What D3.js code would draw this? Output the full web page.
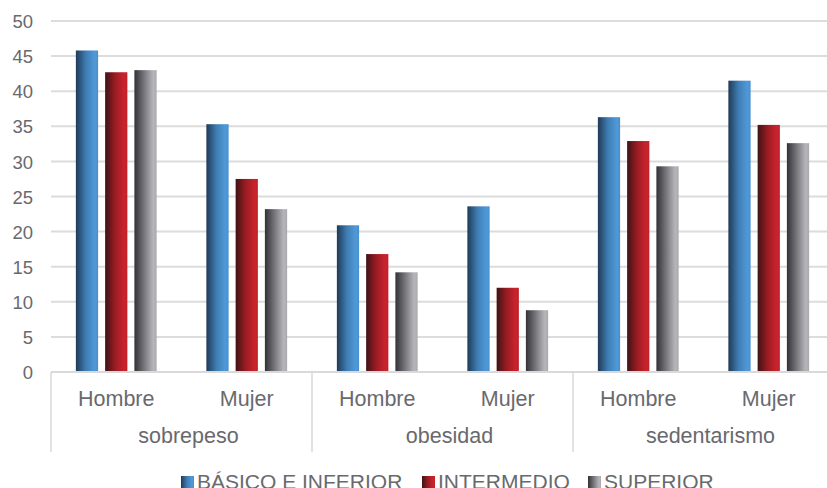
<!DOCTYPE html>
<html><head><meta charset="utf-8">
<script src="https://cdn.jsdelivr.net/npm/d3@7"></script>
<style>body{margin:0;background:#fff}svg{display:block}text{font-family:"Liberation Sans",Arial,sans-serif;fill:#69696d}</style>
</head><body><svg id="c" width="827" height="488"></svg>
<script>
const groups = ["sobrepeso","obesidad","sedentarismo"];
const sexes = ["Hombre","Mujer"];
const seriesNames = ["BÁSICO E INFERIOR","INTERMEDIO","SUPERIOR"];
const basico = [45.8,35.3,20.9,23.6,36.3,41.5];
const intermedio = [42.7,27.5,16.8,12.0,32.9,35.2];
const superior = [43.0,23.2,14.2,8.8,29.3,32.6];
const yTicks = [0,5,10,15,20,25,30,35,40,45,50];

(function(){
const svg = d3.select("#c");
const pLeft = 51, pRight = 834, pTop = 21, pBottom = 372;
const y = d3.scaleLinear().domain([0,50]).range([pBottom,pTop]);
const cats = [];
groups.forEach(g=>sexes.forEach(s=>cats.push(g+"|"+s)));
const x0 = d3.scaleBand().domain(cats).range([pLeft,pRight]);
const x1 = d3.scaleBand().domain(seriesNames).range([0,x0.bandwidth()]).paddingInner(0.24).paddingOuter(0.85);
const xg = d3.scaleBand().domain(groups).range([pLeft,pRight]);

const defs = svg.append("defs");
const grads = [
  ["#1f3a56","#3f7db4","#4f99d8","#4a8fcc"],
  ["#3d1316","#9b1c23","#c9232c","#c0222a"],
  ["#313136","#78787e","#b6b6ba","#a9a9ae"]
];
grads.forEach((c,i)=>{
  const g = defs.append("linearGradient").attr("id","g"+i).attr("x1","0").attr("x2","1").attr("y1","0").attr("y2","0");
  g.append("stop").attr("offset","0").attr("stop-color",c[0]);
  g.append("stop").attr("offset","0.45").attr("stop-color",c[1]);
  g.append("stop").attr("offset","0.85").attr("stop-color",c[2]);
  g.append("stop").attr("offset","1").attr("stop-color",c[3]);
});

svg.append("g").selectAll("line").data(yTicks.filter(d=>d>0)).join("line")
  .attr("x1",pLeft).attr("x2",827).attr("y1",d=>y(d)).attr("y2",d=>y(d))
  .attr("stroke","#dcdcdc").attr("stroke-width",2);

const ya = svg.append("g").attr("transform",`translate(${pLeft},0)`)
  .call(d3.axisLeft(y).tickValues(yTicks).tickSize(0).tickPadding(18));
ya.select(".domain").remove();
ya.selectAll("text").attr("font-size",18.5).attr("fill","#69696d").attr("font-family","Liberation Sans, Arial, sans-serif").attr("dy","0.36em");

const data = [basico,intermedio,superior];
seriesNames.forEach((s,si)=>{
  svg.append("g").selectAll("rect").data(data[si]).join("rect")
    .attr("x",(d,i)=>x0(cats[i])+x1(s)).attr("width",x1.bandwidth())
    .attr("y",d=>y(d)).attr("height",d=>y(0)-y(d))
    .attr("fill",`url(#g${si})`);
});

svg.append("line").attr("x1",pLeft).attr("x2",827).attr("y1",pBottom).attr("y2",pBottom).attr("stroke","#d9d9d9").attr("stroke-width",2);
svg.append("g").selectAll("line").data(groups).join("line")
  .attr("x1",d=>xg(d)).attr("x2",d=>xg(d)).attr("y1",pBottom).attr("y2",452)
  .attr("stroke","#d9d9d9").attr("stroke-width",1.5);
svg.append("g").selectAll("text").data(cats).join("text")
  .attr("x",d=>x0(d)+x0.bandwidth()/2).attr("y",406).attr("text-anchor","middle")
  .attr("font-size",21.5).text(d=>d.split("|")[1]);
svg.append("g").selectAll("text").data(groups).join("text")
  .attr("x",d=>xg(d)+xg.bandwidth()/2+7).attr("y",443).attr("text-anchor","middle")
  .attr("font-size",21.5).text(d=>d);

const legX = [181,422,588];
const lg = svg.append("g");
seriesNames.forEach((s,i)=>{
  lg.append("rect").attr("x",legX[i]).attr("y",476).attr("width",13).attr("height",13).attr("fill",`url(#g${i})`);
  lg.append("text").attr("x",legX[i]+16).attr("y",489).attr("font-size",21).text(s);
});
})();
</script></body></html>
